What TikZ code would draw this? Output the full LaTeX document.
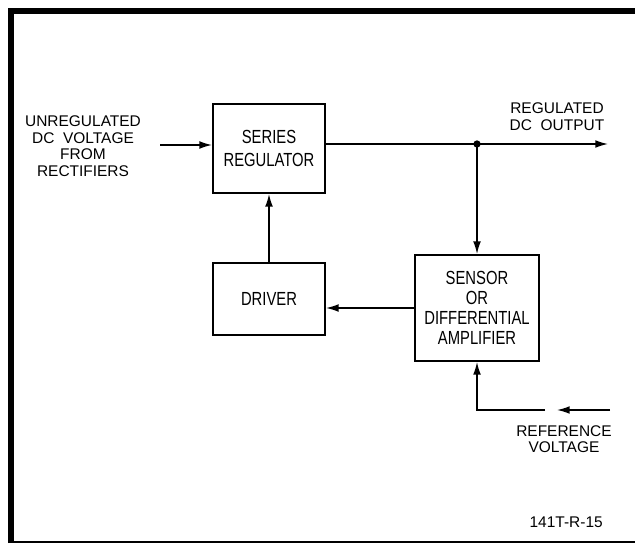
\documentclass[tikz,border=0pt]{standalone}
\usepackage{fontspec}
\setmainfont{Liberation Sans}
\newfontfamily\narrowfont[FakeStretch=0.78]{Liberation Sans}
\usetikzlibrary{arrows.meta}

\begin{document}
\begin{tikzpicture}[x=0.025cm, y=-0.025cm,
    blk/.style={draw, line width=1.3pt, inner sep=0pt, align=center,
        font=\narrowfont\fontsize{13.5}{16.3}\selectfont},
    lbl/.style={align=center, inner sep=0pt, font=\fontsize{11}{11.7}\selectfont},
    arr/.style={-{Latex[length=9pt,width=5.5pt]}, line width=1pt}]
    \useasboundingbox (0,0) rectangle (635,545);
    % frame
    \draw[line width=4pt] (11,543) -- (11,11) -- (635,11);
    \draw[line width=1pt] (11,542) -- (635,542);
    % blocks
    \node[blk, minimum width=2.8cm, minimum height=2.225cm] (series) at (269,148.5) {SERIES\\REGULATOR};
    \node[blk, minimum width=2.8cm, minimum height=1.8cm] (driver) at (269,299) {DRIVER};
    \node[blk, minimum width=3.1cm, minimum height=2.65cm,
        font=\narrowfont\fontsize{13.5}{14.2}\selectfont] (sensor) at (477,308) {SENSOR\\OR\\DIFFERENTIAL\\AMPLIFIER};
    % labels
    \node[lbl] (unreg) at (83,146) {UNREGULATED\\DC\ \ VOLTAGE\\FROM\\RECTIFIERS};
    \node[lbl] (regout) at (557,116.5) {REGULATED\\DC\ \ OUTPUT};
    \node[lbl] (refv) at (564,439) {REFERENCE\\VOLTAGE};
    \node[lbl, anchor=east] (tag) at (603,522) {141T-R-15};
    % connectors
    \coordinate (inp) at (160,145);
    \coordinate (jn) at (477,144);
    \coordinate (outp) at (608,144);
    \coordinate (refa) at (610,410);
    \coordinate (refb) at (557,410);
    \coordinate (refc) at (545,410);
    \draw[arr] (inp) -- (inp -| series.west);
    \draw[line width=1pt] (series.east |- jn) -- (jn);
    \draw[arr] (jn) -- (outp);
    \fill (jn) circle (2.6pt);
    \draw[arr] (jn) -- (sensor.north);
    \draw[arr] (sensor.west) -- (sensor.west -| driver.east);
    \draw[arr] (driver.north) -- (series.south);
    \draw[arr] (refa) -- (refb);
    \draw[arr] (refc) -- (refc -| sensor.south) -- (sensor.south);
\end{tikzpicture}
\end{document}
